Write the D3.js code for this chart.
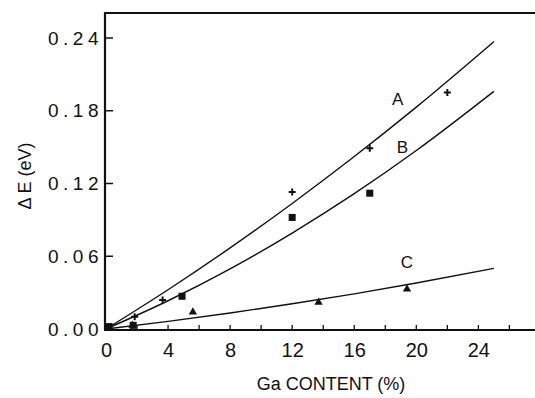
<!DOCTYPE html>
<html><head><meta charset="utf-8">
<script src="https://cdn.jsdelivr.net/npm/d3@7"></script>
<style>body{margin:0;background:#fff}svg{display:block}text{font-family:"Liberation Sans",Arial,sans-serif;fill:#111}</style>
</head><body><svg id="c" width="535" height="398"></svg>
<script>
// Data
const xTicks = [0, 4, 8, 12, 16, 20, 24];
const xMinor = [2, 6, 10, 14, 18, 22, 26];
const yTicks = [0.00, 0.06, 0.12, 0.18, 0.24];
const yTickLabels = ["0.00", "0.06", "0.12", "0.18", "0.24"];
// measured points
const ptsA_x = [1.85, 3.65, 12.0, 17.0, 22.0];
const ptsA_y = [0.010, 0.024, 0.113, 0.149, 0.195];
const ptsB_x = [0.2, 1.75, 4.9, 12.0, 17.0];
const ptsB_y = [0.002, 0.003, 0.027, 0.092, 0.112];
const ptsC_x = [1.7, 5.6, 13.7, 19.4];
const ptsC_y = [0.003, 0.014, 0.022, 0.033];
// fitted curves as drawn
const curveX  = [0, 4, 8, 12, 16, 20, 25];
const curveA  = [0, 0.0324, 0.0669, 0.1035, 0.1422, 0.1830, 0.237];
const curveB  = [0, 0.0233, 0.0496, 0.0791, 0.1116, 0.1472, 0.196];
const curveC  = [0, 0.0063, 0.0132, 0.0208, 0.0290, 0.0379, 0.050];
const curveLabels = ["A", "B", "C"];
const labelPos = [[18.8, 0.185], [19.1, 0.145], [19.4, 0.050]];

const svg = d3.select("#c");
const x = d3.scaleLinear().domain([0, 27.65]).range([106, 535]);
const y = d3.scaleLinear().domain([0, 0.2606]).range([329, 13]);

// frame: top border
svg.append("line").attr("x1", 105).attr("x2", 535).attr("y1", y(0.2606)).attr("y2", y(0.2606))
  .attr("stroke", "#111").attr("stroke-width", 2.2);

// x axis
const xAxis = d3.axisBottom(x).tickValues(xTicks).tickSize(0).tickPadding(13).tickFormat(d3.format("d"));
const gx = svg.append("g").attr("transform", "translate(0,330)").call(xAxis);
gx.select(".domain").attr("stroke", "#111").attr("stroke-width", 2).attr("d", "M105,0H535");
gx.selectAll("text").style("font-size", "20px").style("font-family", "Liberation Sans, Arial, sans-serif").attr("fill", "#111");
// inward ticks
svg.append("g").selectAll("line").data(xTicks.concat(xMinor)).join("line")
  .attr("x1", d => x(d)).attr("x2", d => x(d)).attr("y1", 330).attr("y2", 325)
  .attr("stroke", "#111").attr("stroke-width", 1.3);

// y axis
const yAxis = d3.axisLeft(y).tickValues(yTicks).tickSize(0).tickPadding(6).tickFormat((d, i) => yTickLabels[i]);
const gy = svg.append("g").attr("transform", "translate(105,0)").call(yAxis);
gy.select(".domain").attr("stroke", "#111").attr("stroke-width", 2.2).attr("d", "M0,331V12");
gy.selectAll("text").style("font-size", "19px").style("letter-spacing", "4.5px").style("font-family", "Liberation Sans, Arial, sans-serif").attr("fill", "#111").attr("dx", "4px");
svg.append("g").selectAll("line").data(yTicks).join("line")
  .attr("x1", 105).attr("x2", 113).attr("y1", d => y(d)).attr("y2", d => y(d))
  .attr("stroke", "#111").attr("stroke-width", 1.5);

// titles
svg.append("text").attr("x", 331).attr("y", 390).attr("text-anchor", "middle")
  .style("font-size", "18px").text("Ga CONTENT (%)");
svg.append("text").attr("transform", "translate(31,176) rotate(-90)").attr("text-anchor", "middle")
  .style("font-size", "18px").text("\u0394 E (eV)");

// curves
const line = d3.line().x(d => x(d[0])).y(d => y(d[1])).curve(d3.curveMonotoneX);
[curveA, curveB, curveC].forEach(cy => {
  svg.append("path").datum(curveX.map((v, i) => [v, cy[i]])).attr("d", line)
    .attr("fill", "none").attr("stroke", "#111").attr("stroke-width", 1.4);
});
curveLabels.forEach((t, i) => {
  svg.append("text").attr("x", x(labelPos[i][0])).attr("y", y(labelPos[i][1])).attr("text-anchor", "middle")
    .style("font-size", "17px").text(t);
});

// markers
svg.append("g").selectAll("path").data(ptsA_x.map((v, i) => [v, ptsA_y[i]])).join("path")
  .attr("d", d => { const cx = x(d[0]), cy = y(d[1]); return `M${cx-3.5},${cy}H${cx+3.5}M${cx},${cy-3.5}V${cy+3.5}`; })
  .attr("stroke", "#111").attr("stroke-width", 2);
svg.append("g").selectAll("rect").data(ptsB_x.map((v, i) => [v, ptsB_y[i]])).join("rect")
  .attr("x", d => x(d[0]) - 3.5).attr("y", d => y(d[1]) - 3.5).attr("width", 7).attr("height", 7).attr("fill", "#111");
svg.append("g").selectAll("path").data(ptsC_x.map((v, i) => [v, ptsC_y[i]])).join("path")
  .attr("d", d3.symbol(d3.symbolTriangle, 30)).attr("transform", d => `translate(${x(d[0])},${y(d[1])})`)
  .attr("fill", "#111");
</script></body></html>
